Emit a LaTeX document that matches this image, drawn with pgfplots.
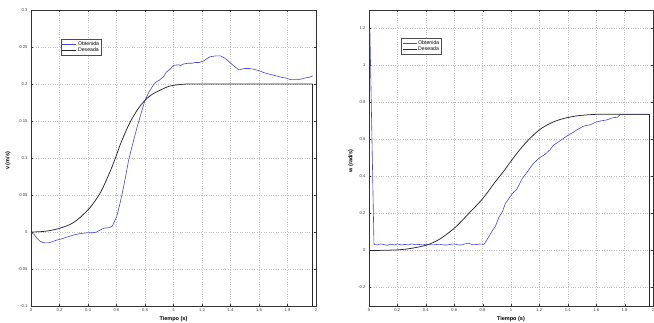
\documentclass[border=0pt]{standalone}
\usepackage{pgfplots}
\pgfplotsset{compat=1.18}
\usepackage{fontspec}
\setmainfont{Liberation Sans}
\definecolor{obt}{RGB}{70,70,200}
\definecolor{des}{RGB}{40,40,40}
\pgfplotsset{
  mystyle/.style={
    scale only axis,
    width=285pt, height=296pt,
    xmin=0, xmax=2,
    xtick={0,0.2,...,2.01},
    xticklabels={0,0.2,0.4,0.6,0.8,1,1.2,1.4,1.6,1.8,2},
    grid=major,
    major grid style={dotted, gray!50, line width=0.45pt},
    tick align=inside,
    major tick length=2pt,
    axis line style={line width=0.5pt, black!80},
    tick style={black!80},
    ticklabel style={font=\fontsize{4.2}{5}\selectfont, text=black!75},
    /pgf/number format/assume math mode=true,
    xticklabel style={yshift=1pt},
    xlabel={\textbf{Tiempo (s)}},
    xlabel style={font=\fontsize{5.5}{6}\selectfont, at={(axis description cs:0.5,0)}, anchor=north, yshift=-6.5pt},
    ylabel style={font=\fontsize{5.5}{6}\selectfont\bfseries, at={(axis description cs:0,0.49)}, anchor=south},
    legend style={font=\fontsize{5.2}{6}\selectfont, draw=black!70, line width=0.4pt, inner sep=1pt, row sep=-1pt, nodes={inner sep=1.2pt}},
    legend cell align=left,
    legend image code/.code={\draw[#1, line width=0.7pt] (0pt,0pt) -- (14pt,0pt);},
    clip=true,
  }
}
\begin{document}
\begin{tikzpicture}[x=1pt,y=1pt]
\useasboundingbox (0,0) rectangle (654,322);
\begin{axis}[mystyle, at={(31pt,16pt)}, anchor=south west,
  width=285pt,
  ymin=-0.1, ymax=0.3,
  ytick={-0.1,-0.05,0,0.05,0.1,0.15,0.2,0.25,0.3},
  yticklabels={-0.1,-0.05,0,0.05,0.1,0.15,0.2,0.25,0.3},
  ylabel={v (m/s)}, ylabel style={yshift=17pt},
  legend style={at={(0.105,0.902)}, anchor=north west}]
\addplot[color=obt, line width=0.6pt] coordinates {
(0,0) (0.02,-0.003) (0.04,-0.008) (0.06,-0.012) (0.087,-0.0145) (0.12,-0.0148) (0.15,-0.013) (0.18,-0.011) (0.22,-0.009) (0.25,-0.007) (0.3,-0.004) (0.35,-0.002) (0.40,-0.001) (0.44,-0.001) (0.46,0) (0.49,0.003) (0.51,0.005) (0.55,0.006) (0.57,0.008) (0.60,0.02) (0.62,0.035) (0.64,0.052) (0.665,0.076) (0.685,0.097) (0.715,0.12) (0.745,0.142) (0.775,0.162) (0.80,0.178) (0.83,0.19) (0.86,0.199) (0.88,0.203) (0.90,0.205) (0.93,0.21) (0.95,0.216) (0.98,0.221) (1.00,0.225) (1.03,0.226) (1.05,0.225) (1.07,0.227) (1.10,0.228) (1.13,0.228) (1.15,0.229) (1.18,0.229) (1.21,0.231) (1.24,0.235) (1.26,0.237) (1.30,0.238) (1.33,0.238) (1.36,0.235) (1.39,0.230) (1.42,0.225) (1.46,0.219) (1.50,0.221) (1.53,0.221) (1.56,0.220) (1.60,0.218) (1.64,0.215) (1.68,0.213) (1.72,0.211) (1.76,0.209) (1.79,0.208) (1.82,0.206) (1.85,0.206) (1.88,0.206) (1.92,0.208) (1.95,0.209) (1.977,0.211)
};
\addlegendentry{Obtenida}
\addplot[color=des, line width=0.75pt, smooth, tension=0.6] coordinates {
(0,0) (0.1,0.001) (0.2,0.005) (0.3,0.013) (0.4,0.03) (0.46,0.045) (0.5,0.058) (0.56,0.084) (0.6,0.104) (0.63,0.12) (0.67,0.138) (0.70,0.150) (0.75,0.166) (0.80,0.178) (0.85,0.186) (0.91,0.192) (0.97,0.197) (1.03,0.199) (1.10,0.2) (1.2,0.2) (1.977,0.2)
};
\addlegendentry{Deseada}
\addplot[color=des, line width=0.75pt, forget plot] coordinates {(1.977,0.2) (1.977,-0.1)};
\end{axis}
\begin{axis}[mystyle, at={(369pt,16pt)}, anchor=south west,
  width=284pt,
  ymin=-0.3, ymax=1.3,
  ytick={-0.2,0,0.2,0.4,0.6,0.8,1,1.2},
  yticklabels={-0.2,0,0.2,0.4,0.6,0.8,1,1.2},
  ylabel={w (rad/s)}, ylabel style={yshift=12pt},
  legend style={at={(0.113,0.905)}, anchor=north west}]
\addplot[color=obt, line width=0.6pt] coordinates {
(0.006,1.2) (0.035,0.033) (0.06,0.03) (0.08,0.036) (0.1,0.033) (0.13,0.028) (0.15,0.034) (0.18,0.03) (0.2,0.035) (0.23,0.03) (0.25,0.033) (0.28,0.03) (0.3,0.036) (0.33,0.031) (0.35,0.033) (0.38,0.03) (0.4,0.034) (0.43,0.031) (0.45,0.03) (0.48,0.033) (0.5,0.033) (0.53,0.03) (0.55,0.03) (0.58,0.034) (0.6,0.035) (0.63,0.03) (0.65,0.03) (0.68,0.036) (0.7,0.04) (0.73,0.031) (0.75,0.032) (0.78,0.035) (0.81,0.033) (0.84,0.07) (0.87,0.109) (0.89,0.13) (0.915,0.18) (0.94,0.21) (0.96,0.254) (0.985,0.28) (1.01,0.309) (1.04,0.33) (1.056,0.354) (1.08,0.39) (1.1,0.41) (1.12,0.43) (1.157,0.47) (1.2,0.5) (1.24,0.52) (1.275,0.545) (1.3,0.57) (1.34,0.59) (1.39,0.617) (1.43,0.635) (1.47,0.655) (1.51,0.672) (1.56,0.68) (1.6,0.695) (1.63,0.70) (1.67,0.705) (1.72,0.718) (1.75,0.72) (1.77,0.736) (1.975,0.736)
};
\addlegendentry{Obtenida}
\addplot[color=des, line width=0.75pt, smooth, tension=0.6] coordinates {
(0,0) (0.1,0.001) (0.21,0.004) (0.3,0.012) (0.4,0.028) (0.46,0.046) (0.52,0.073) (0.61,0.127) (0.70,0.198) (0.80,0.28) (0.89,0.372) (0.95,0.43) (1.0,0.483) (1.06,0.543) (1.13,0.603) (1.20,0.652) (1.27,0.685) (1.345,0.708) (1.42,0.722) (1.49,0.730) (1.6,0.736) (1.7,0.736) (1.975,0.736)
};
\addlegendentry{Deseada}
\addplot[color=des, line width=0.75pt, forget plot] coordinates {(1.975,0.736) (1.975,-0.3)};
\end{axis}
\end{tikzpicture}
\end{document}
